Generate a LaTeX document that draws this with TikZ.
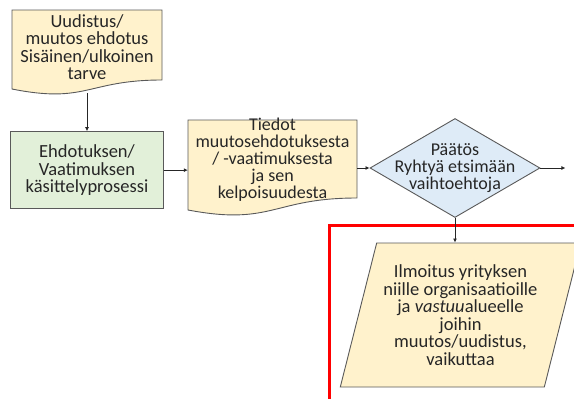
\documentclass[tikz,border=0pt]{standalone}
\usepackage{fontspec}
\setmainfont{Carlito}
\usetikzlibrary{positioning}
\usetikzlibrary{shapes.geometric}
\usetikzlibrary{arrows.meta}

\definecolor{docyellow}{HTML}{FFF2CC}
\definecolor{procgreen}{HTML}{E2F0D9}
\definecolor{decblue}{HTML}{DEEBF7}
\definecolor{edgegray}{HTML}{595959}
\definecolor{textgray}{HTML}{262626}

\begin{document}
\begin{tikzpicture}[x=1pt,y=-1pt]
		\tikzset{edge/.style = {-{Latex[length=4pt,width=4pt]}, draw=black!85, line width=0.8pt}}
		\tikzset{outline/.style = {draw=edgegray, line width=0.9pt}}
		\tikzset{txt/.style = {font=\fontsize{18.5}{17.5}\selectfont, text=textgray, align=center, inner sep=0pt}}
		\tikzset{tighttxt/.style = {txt, font=\fontsize{18}{17}\selectfont}}
		\useasboundingbox (0,0) rectangle (574,399);
		\clip (0,0) rectangle (574,399);
		% document shapes, drawn first
		\coordinate (needc) at (87,47);
		\draw[outline, fill=docyellow, shift={(needc)}] (-75,-37) -- (75,-37) -- (75,33)
			.. controls (0,33) and (0,57) .. (-75,42) -- cycle;
		\coordinate (infoc) at (272.5,160);
		\draw[outline, fill=docyellow, shift={(infoc)}] (-84.5,-40) -- (84.5,-40) -- (84.5,38)
			.. controls (0,38) and (0,66) .. (-84.5,50) -- cycle;
		\node[txt, minimum width=150pt, minimum height=92pt] (need) at (needc)
			{Uudistus/\\muutos ehdotus\\Sisäinen/ulkoinen\\tarve};
		\node[txt, outline, fill=procgreen, minimum width=153pt, minimum height=77pt, below=38pt of need] (proc)
			{Ehdotuksen/\\Vaatimuksen\\käsittelyprosessi};
		\node[tighttxt, minimum width=169pt] (info) at (infoc)
			{Tiedot\\muutosehdotuksesta\\/ -vaatimuksesta\\ja sen\\kelpoisuudesta};
		\node[tighttxt, outline, fill=decblue, diamond, aspect=1.717,
			inner xsep=-30pt, minimum width=170pt, minimum height=99pt] (dec) at (455,168)
			{Päätös\\Ryhtyä etsimään\\vaihtoehtoja};
		\coordinate[right=25pt of dec] (out);
		\node[txt, outline, fill=docyellow, trapezium, trapezium left angle=71.6, trapezium right angle=108.4,
			trapezium stretches=true, minimum width=241pt, minimum height=144pt] (notice) at (460.5,315)
			{Ilmoitus yrityksen\\niille organisaatioille\\ja \textit{vastuu}alueelle\\joihin\\muutos/uudistus,\\vaikuttaa};
		\draw[red, line width=3pt] (329,225) rectangle (600,420);
		\draw[edge] (need) -- (proc);
		\draw[edge] (proc.east) -- (proc.east -| info.west);
		\draw[edge] (dec.west -| info.east) -- (dec.west);
		\draw[edge] (dec.east) -- (out);
		\draw[edge] (dec.south) -- (dec.south |- notice.north);
	\end{tikzpicture}
\end{document}
